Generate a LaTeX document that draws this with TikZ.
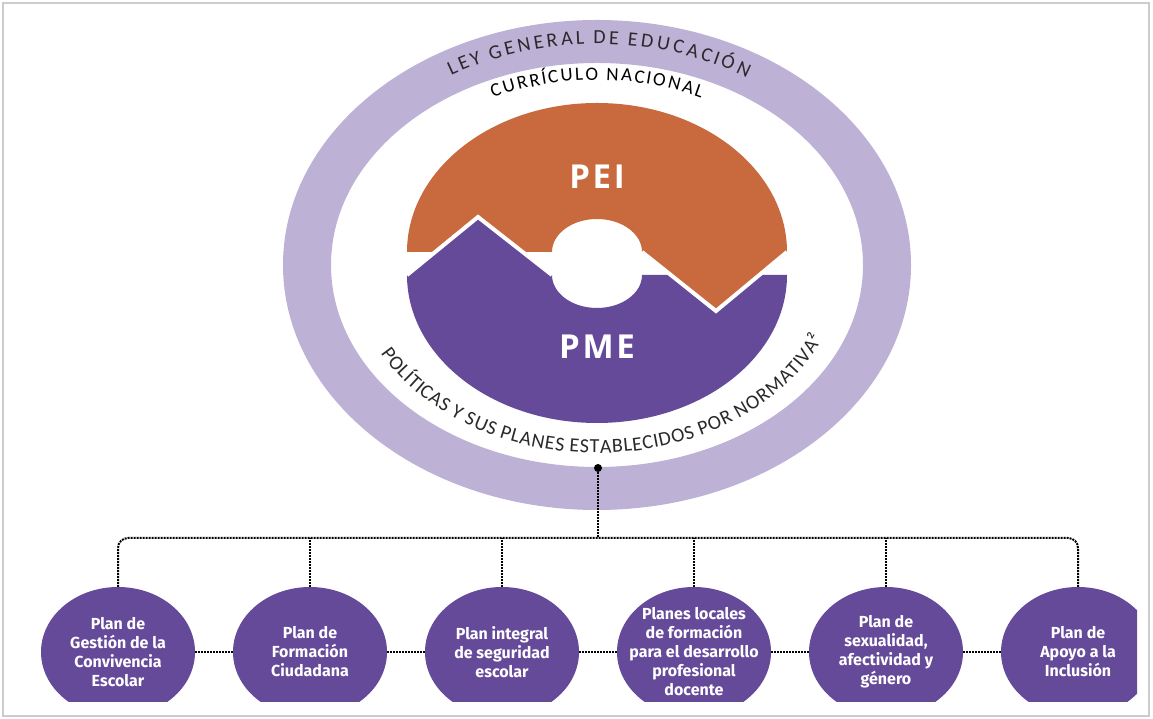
\documentclass[tikz,border=0pt]{standalone}
\usepackage{fontspec}
\usetikzlibrary{shapes.geometric,decorations.text}
\setmainfont{Fira Sans}
\newfontfamily\arcfont{Carlito}
\newfontfamily\bigfont[LetterSpace=8]{Open Sans}
\definecolor{ringlila}{HTML}{BDB1D6}
\definecolor{peinaranja}{HTML}{C8693E}
\definecolor{pmelila}{HTML}{664A9A}
\definecolor{textgris}{HTML}{2A2A2A}

\begin{document}
\begin{tikzpicture}[x=1pt, y=1pt,
  plan/.style={ellipse, fill=pmelila, minimum width=154pt, minimum height=130pt, inner sep=0pt},
  plantext/.style={text=white, align=center, font=\fontsize{16}{19}\selectfont\bfseries},
  link/.style={densely dotted, line width=2pt, black},
  arctext/.style={decorate, decoration={text effects along path, text={#1}, text effects/.cd, text along path, fit text to path, characters={text=textgris, font=\arcfont\fontsize{20}{24}\selectfont}}}]
\useasboundingbox (0,0) rectangle (1153,719);
\fill[white] (0,0) rectangle (1153,719);
\fill[ringlila, even odd rule] (597,454) ellipse[x radius=314, y radius=245] (597,454) ellipse[x radius=266, y radius=202];
\path[arctext={LEY GENERAL DE EDUCACIÓN}] (597,454) ++(121:283 and 221) arc[start angle=121, end angle=58, x radius=283, y radius=221];
\path[arctext={CURRÍCULO NACIONAL}, decoration={text effects/characters={font=\arcfont\fontsize{19}{22}\selectfont}}] (597,454) ++(115.5:242 and 185) arc[start angle=115.5, end angle=64.5, x radius=242, y radius=185];
\path[arctext={POLÍTICAS Y SUS PLANES ESTABLECIDOS POR NORMATIVA²}] (597,454) ++(208:245 and 188) arc[start angle=208, end angle=337, x radius=245, y radius=188];
% PEI / PME
\fill[peinaranja] (407,467) -- (552,467) arc[start angle=180, end angle=0, x radius=45, y radius=33] -- (716,408) -- (787,467) arc[start angle=0, end angle=180, x radius=190, y radius=149] -- cycle;
\fill[pmelila] (787,444) -- (642,444) arc[start angle=0, end angle=-180, x radius=45, y radius=33] -- (478,502) -- (407,444) arc[start angle=180, end angle=360, x radius=190, y radius=148] -- cycle;
\fill[peinaranja] (642,467) -- (716,408) -- (787,467) -- cycle;
\draw[white, line width=4pt] (642,467) -- (716,408) -- (787,467);
\draw[white, line width=4pt] (407,444) -- (478,502) -- (552,444);
\node[text=white, font=\bigfont\bfseries\fontsize{33}{38}\selectfont] (pei) at (597,542) {PEI};
\node[text=white, font=\bigfont\bfseries\fontsize{33}{38}\selectfont] (pme) at (597,372) {PME};
% planes
\begin{scope}
\clip (0,17) rectangle (1137,719);
\node[plan] (c1) at (118,67) {};
\node[plan] (c2) at (310,67) {};
\node[plan] (c3) at (502,67) {};
\node[plan] (c4) at (694,67) {};
\node[plan] (c5) at (886,67) {};
\node[plan] (c6) at (1078,67) {};
\end{scope}
\node[plantext] (t1) at (c1) {Plan de\\Gestión de la\\Convivencia\\Escolar};
\node[plantext] (t2) at (c2) {Plan de\\Formación\\Ciudadana};
\node[plantext] (t3) at (c3) {Plan integral\\de seguridad\\escolar};
\node[plantext] (t4) at (c4) {Planes locales\\de formación\\para el desarrollo\\profesional\\docente};
\node[plantext] (t5) at (c5) {Plan de\\sexualidad,\\afectividad y\\género};
\node[plantext] (t6) at (c6) {Plan de\\Apoyo a la\\Inclusión};
\node[circle, fill=black, inner sep=0pt, minimum size=8pt] (src) at (598,251) {};
\coordinate (hub) at (598,181);
\draw[link] (src) -- (hub);
\draw[link, rounded corners=10pt] (c1.north) |- (hub) -| (c6.north);
\foreach \c in {c2,c3,c4,c5}
  \draw[link] (\c.north) -- (\c.north |- hub);
\foreach \a/\b in {c1/c2,c2/c3,c3/c4,c4/c5,c5/c6}
  \draw[link] (\a) -- (\b);
\draw[black!20, line width=2.5pt] (3,3) rectangle (1149,716);
\end{tikzpicture}
\end{document}
